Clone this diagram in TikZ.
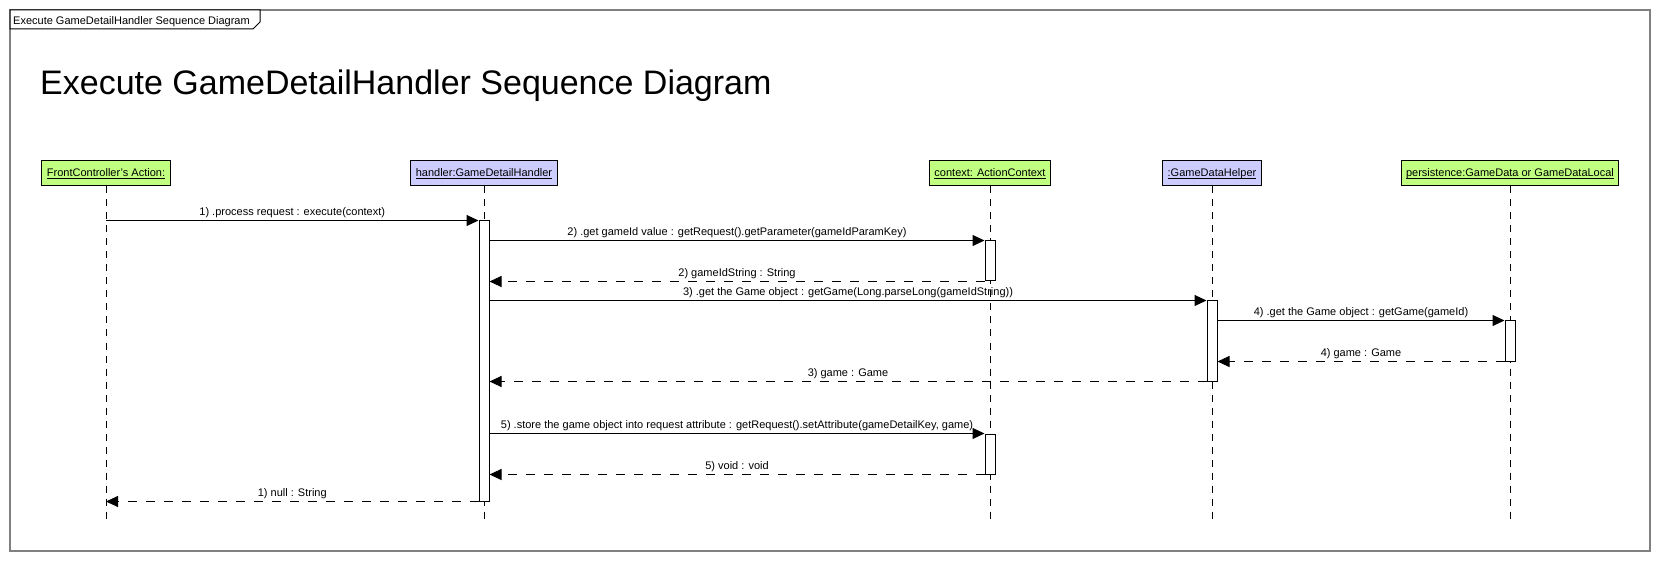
\documentclass[tikz,border=0pt]{standalone}
\usepackage{fontspec}
\setmainfont{Liberation Sans}
\usepackage{tikz}
\usetikzlibrary{arrows.meta,positioning}
\definecolor{headgreen}{HTML}{C0FF80}
\definecolor{headblue}{HTML}{CCCCFF}
\definecolor{rim}{HTML}{808080}
\newcommand{\objname}[1]{\underline{\raisebox{0pt}[\height][0pt]{#1}}}

\begin{document}
\begin{tikzpicture}[
  x=1pt,y=-1pt,
  font=\fontsize{11}{13}\selectfont,
  head/.style={draw,line width=1pt,minimum height=25pt,inner xsep=5pt,inner ysep=0pt},
  bar/.style={draw,fill=white,line width=1pt,minimum width=10pt,inner sep=0pt},
  life/.style={line width=1pt,dash pattern=on 7pt off 6pt},
  call/.style={-{Triangle[length=12pt,width=11pt]},line width=1pt},
  reply/.style={call,dash pattern=on 9pt off 9pt},
  msg/.style={above=1pt,inner sep=1pt}
]
\useasboundingbox (0,0) rectangle (1660,561);
% frame and tab
\draw[rim,line width=1.2pt] (10,10) rectangle (1650,551);
\draw[line width=1pt,fill=white] (10,10) -- (260,10) -- (260,22) -- (253,29) -- (10,29) -- cycle;
\node[anchor=base west,inner sep=0pt] (tab) at (13,25) {Execute GameDetailHandler Sequence Diagram};
\node[anchor=base west,inner sep=0pt,font=\fontsize{34}{40}\selectfont] (title) at (40,95) {Execute GameDetailHandler Sequence Diagram};

% lifeline heads
\node[head,fill=headgreen] (fc) at (106,173.5) {\objname{FrontController's Action:}};
\node[head,fill=headblue] (handler) at (484,173.5) {\objname{handler:GameDetailHandler}};
\node[head,fill=headgreen] (context) at (990,173.5) {\objname{context: ActionContext}};
\node[head,fill=headblue] (helper) at (1212,173.5) {\objname{:GameDataHelper}};
\node[head,fill=headgreen] (persist) at (1510,173.5) {\objname{persistence:GameData or GameDataLocal}};

% lifelines
\coordinate (fcend) at (106,521);
\coordinate (handlerend) at (484,521);
\coordinate (contextend) at (990,521);
\coordinate (helperend) at (1212,521);
\coordinate (persistend) at (1510,521);
\draw[life] (fc) -- (fcend);
\draw[life] (handler) -- (handlerend);
\draw[life] (context) -- (contextend);
\draw[life] (helper) -- (helperend);
\draw[life] (persist) -- (persistend);

% activations
\node[bar,minimum height=280pt] (hbar) at (484,361) {};
\node[bar,minimum height=40pt] (cbar1) at (990,261) {};
\node[bar,minimum height=80pt] (gbar) at (1212,341) {};
\node[bar,minimum height=40pt] (pbar) at (1510,341) {};
\node[bar,minimum height=40pt] (cbar2) at (990,454) {};

% messages
\draw[call] (fc.south |- hbar.north) -- node[msg] {1) .process request : execute(context)} (hbar.north west);
\draw[call] (hbar.east |- cbar1.north) -- node[msg] {2) .get gameId value : getRequest().getParameter(gameIdParamKey)} (cbar1.north west);
\draw[reply] (cbar1.south west) -- node[msg] {2) gameIdString : String} (hbar.east |- cbar1.south);
\draw[call] (hbar.east |- gbar.north) -- node[msg] {3) .get the Game object : getGame(Long.parseLong(gameIdString))} (gbar.north west);
\draw[call] (gbar.east |- pbar.north) -- node[msg] {4) .get the Game object : getGame(gameId)} (pbar.north west);
\draw[reply] (pbar.south west) -- node[msg] {4) game : Game} (gbar.east |- pbar.south);
\draw[reply] (gbar.south west) -- node[msg] {3) game : Game} (hbar.east |- gbar.south);
\draw[call] (hbar.east |- cbar2.north) -- node[msg] {5) .store the game object into request attribute : getRequest().setAttribute(gameDetailKey, game)} (cbar2.north west);
\draw[reply] (cbar2.south west) -- node[msg] {5) void : void} (hbar.east |- cbar2.south);
\draw[reply] (hbar.south west) -- node[msg] {1) null : String} (fc.south |- hbar.south);
\end{tikzpicture}
\end{document}
